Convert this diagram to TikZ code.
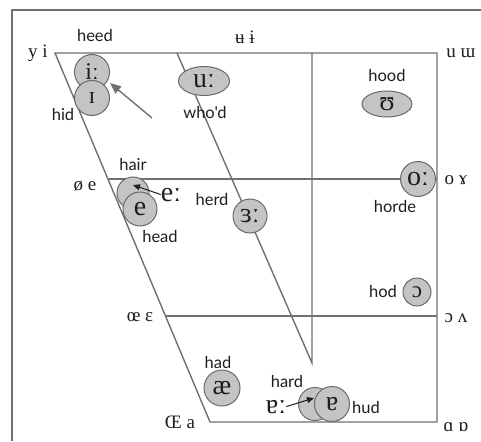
\documentclass[tikz,border=0pt]{standalone}
\usepackage{fontspec}
\usetikzlibrary{shapes.geometric,arrows.meta}
\newfontfamily\ipaf{Liberation Serif}
\newfontfamily\labf{Lato}
\definecolor{lin}{HTML}{707070}
\definecolor{cfill}{HTML}{C4C4C4}
\definecolor{cdraw}{HTML}{6A6A6A}
\definecolor{txt}{HTML}{1E1E1E}
\tikzset{
  chart/.style={draw=lin, line width=1.4pt},
  frameline/.style={draw=lin, line width=1.4pt},
  vowel/.style={circle, draw=cdraw, fill=cfill, line width=1pt, minimum size=35pt, inner sep=0pt, text=txt, font=\ipaf\fontsize{28}{28}\selectfont},
  vowelel/.style={ellipse, draw=cdraw, fill=cfill, line width=1pt, inner sep=0pt, text=txt, font=\ipaf\fontsize{28}{28}\selectfont},
  word/.style={anchor=base, inner sep=0pt, text=txt, font=\labf\fontsize{16.5}{16.5}\selectfont},
  corner/.style={anchor=base, inner sep=0pt, text=txt, font=\ipaf\fontsize{19}{19}\selectfont},
  ipalab/.style={anchor=base, inner sep=0pt, text=txt, font=\ipaf\fontsize{28}{28}\selectfont},
  grayarr/.style={draw=lin, line width=1.4pt, -{Triangle[length=11pt,width=9pt]}},
  darkarr/.style={draw=txt, line width=1pt, -{Triangle[length=7pt,width=6pt]}},
  pairtext/.style={font=\ipaf\fontsize{24}{24}\selectfont}
}
\begin{document}
\begin{tikzpicture}[x=1pt,y=-1pt]
\useasboundingbox (0,0) rectangle (481,441);
% frame (top and left)
\coordinate (F1) at (12,441);
\coordinate (F2) at (12,10);
\coordinate (F3) at (481,10);
\draw[frameline] (F1) -- (F2) -- (F3);
% chart coordinates
\coordinate (TL) at (55,53);
\coordinate (TR) at (437,53);
\coordinate (BR) at (437,422);
\coordinate (BL) at (210,422);
\coordinate (ML1) at (108,179);
\coordinate (MR1) at (437,179);
\coordinate (ML2) at (165.5,316);
\coordinate (MR2) at (437,316);
\coordinate (CT) at (177,53);
\coordinate (VT) at (312,53);
\coordinate (CB) at (312,363);
\draw[chart] (TL) -- (TR) -- (BR) -- (BL) -- cycle;
\draw[chart] (ML1) -- (MR1);
\draw[chart] (ML2) -- (MR2);
\draw[chart] (CT) -- (CB) -- (VT);
% corner labels
\node[corner] (c1) at (38,58) {y i};
\node[corner] (c2) at (245,44) {ʉ ɨ};
\node[corner] (c3) at (461,58) {u ɯ};
\node[corner] (c4) at (85,190) {ø e};
\node[corner] (c5) at (456,184) {o ɤ};
\node[corner] (c6) at (140,321) {œ ɛ};
\node[corner] (c7) at (456,322) {ɔ ʌ};
\node[corner] (c8) at (180,428) {Œ a};
\node[corner] (c9) at (456,431) {ɑ ɒ};
% vowels
\node[vowel, pairtext] (ii) at (92,72) {iː};
\node[vowel, pairtext] (ih) at (92,98) {ɪ};
\node[vowelel, minimum width=51pt, minimum height=29pt] (uu) at (204,81) {uː};
\node[vowelel, minimum width=50pt, minimum height=26pt] (uh) at (387,104) {ʊ};
\node[vowel, minimum size=32pt] (ea) at (133,193) {};
\node[vowel, minimum size=34pt] (eh) at (140,209) {e};
\node[vowel, minimum size=34pt] (er) at (250,216) {ɜː};
\node[vowel] (oo) at (418,179) {oː};
\node[vowel, minimum size=28pt, font=\ipaf\fontsize{23}{23}\selectfont] (oh) at (417,292) {ɔ};
\node[vowel, minimum size=36pt] (ae) at (222,388) {æ};
\node[vowel, minimum size=33pt] (ar) at (315,404) {};
\node[vowel, minimum size=35pt] (uhd) at (332,404) {ɐ};
% words
\node[word] (w1) at (95,42) {heed};
\node[word] (w2) at (63,120) {hid};
\node[word] (w3) at (205,118) {who'd};
\node[word] (w4) at (387,82) {hood};
\node[word] (w5) at (133,170) {hair};
\node[word] (w6) at (212,205) {herd};
\node[word] (w7) at (160,242) {head};
\node[word] (w8) at (395,212) {horde};
\node[word] (w9) at (383,297) {hod};
\node[word] (w10) at (218,368) {had};
\node[word] (w11) at (287,387) {hard};
\node[word] (w12) at (366,413) {hud};
% outside ipa labels
\node[ipalab] (eL) at (171,201) {eː};
\node[ipalab] (aL) at (276,413) {ɐː};
% arrows
\coordinate (hidA) at (152,118);
\coordinate (hidB) at (110,83);
\draw[grayarr] (hidA) -- (hidB);
\coordinate (eA) at (133,185);
\draw[darkarr] (eL.west) -- (eA);
\coordinate (aA) at (314,398);
\draw[darkarr] (aL.east) -- (aA);
\end{tikzpicture}
\end{document}
